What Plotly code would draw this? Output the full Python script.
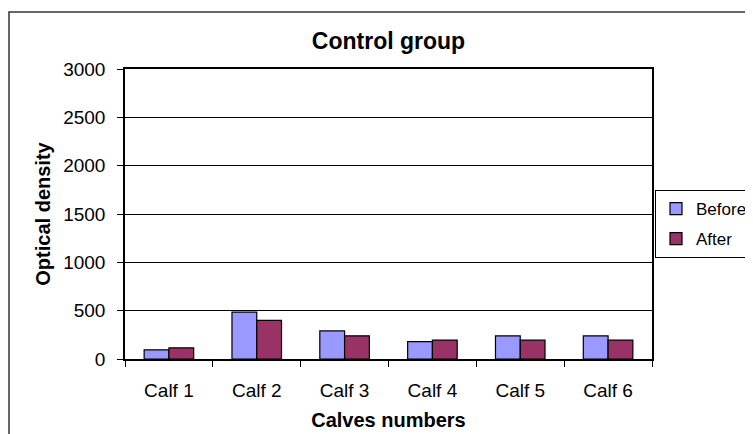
import plotly.graph_objects as go

categories = ["Calf 1", "Calf 2", "Calf 3", "Calf 4", "Calf 5", "Calf 6"]
before = [95, 485, 290, 180, 240, 240]
after = [115, 400, 240, 195, 195, 195]
y_ticks = [0, 500, 1000, 1500, 2000, 2500, 3000]

FONT = "Liberation Sans, Arial, sans-serif"

fig = go.Figure()
fig.add_trace(go.Bar(x=categories, y=before, name="Before", legendgroup="b",
                     marker=dict(color="#9999FF", line=dict(color="black", width=1.2))))
fig.add_trace(go.Bar(x=categories, y=after, name="After", legendgroup="a",
                     marker=dict(color="#993366", line=dict(color="black", width=1.2))))

# page body has an 8px margin; figure laid out in its own coordinates
W, H = 745, 426
L, T = 117, 61
R, B = W - 644, H - 351
pw, ph = W - L - R, H - T - B

fig.update_layout(
    width=W, height=H,
    margin=dict(l=L, r=R, t=T, b=B, pad=0, autoexpand=False),
    paper_bgcolor="white", plot_bgcolor="white",
    font=dict(family=FONT, size=19, color="black"),
    barmode="group", bargap=0.436, bargroupgap=0,
    title=dict(text="<b>Control group</b>", x=(L + pw / 2) / W, xanchor="center",
               y=1 - 33 / H, yanchor="middle", font=dict(size=23, family=FONT)),
    showlegend=True,
    legend=dict(x=(647 - L) / pw, xanchor="left", y=(351 - 182) / ph, yanchor="top",
                bordercolor="black", borderwidth=1, traceorder="grouped",
                tracegroupgap=5,
                font=dict(size=17, family=FONT), bgcolor="white"),
    xaxis=dict(
        showline=True, linecolor="black", linewidth=1.5, mirror=True,
        ticks="outside", tickson="boundaries", ticklen=6, tickcolor="black",
        ticklabelstandoff=13,
        title=dict(text="<b>Calves numbers</b>", font=dict(size=20), standoff=13),
        tickfont=dict(size=19),
    ),
    yaxis=dict(
        range=[0, 3000], tickvals=y_ticks,
        showline=True, linecolor="black", linewidth=1.5, mirror=True,
        ticks="outside", ticklen=6, tickcolor="black",
        ticklabelstandoff=8,
        showgrid=True, gridcolor="black", gridwidth=1,
        title=dict(text="<b>Optical density</b>", font=dict(size=20), standoff=7),
        tickfont=dict(size=19), zeroline=False,
    ),
)

fig.add_shape(type="rect", xref="paper", yref="paper",
              x0=(1 - L) / pw, x1=(W + 20 - L) / pw,
              y0=-(B + 20) / ph, y1=(H - B - 4) / ph,
              line=dict(color="#333333", width=1.5), fillcolor="rgba(0,0,0,0)", layer="below")

fig.write_html("out.html")
